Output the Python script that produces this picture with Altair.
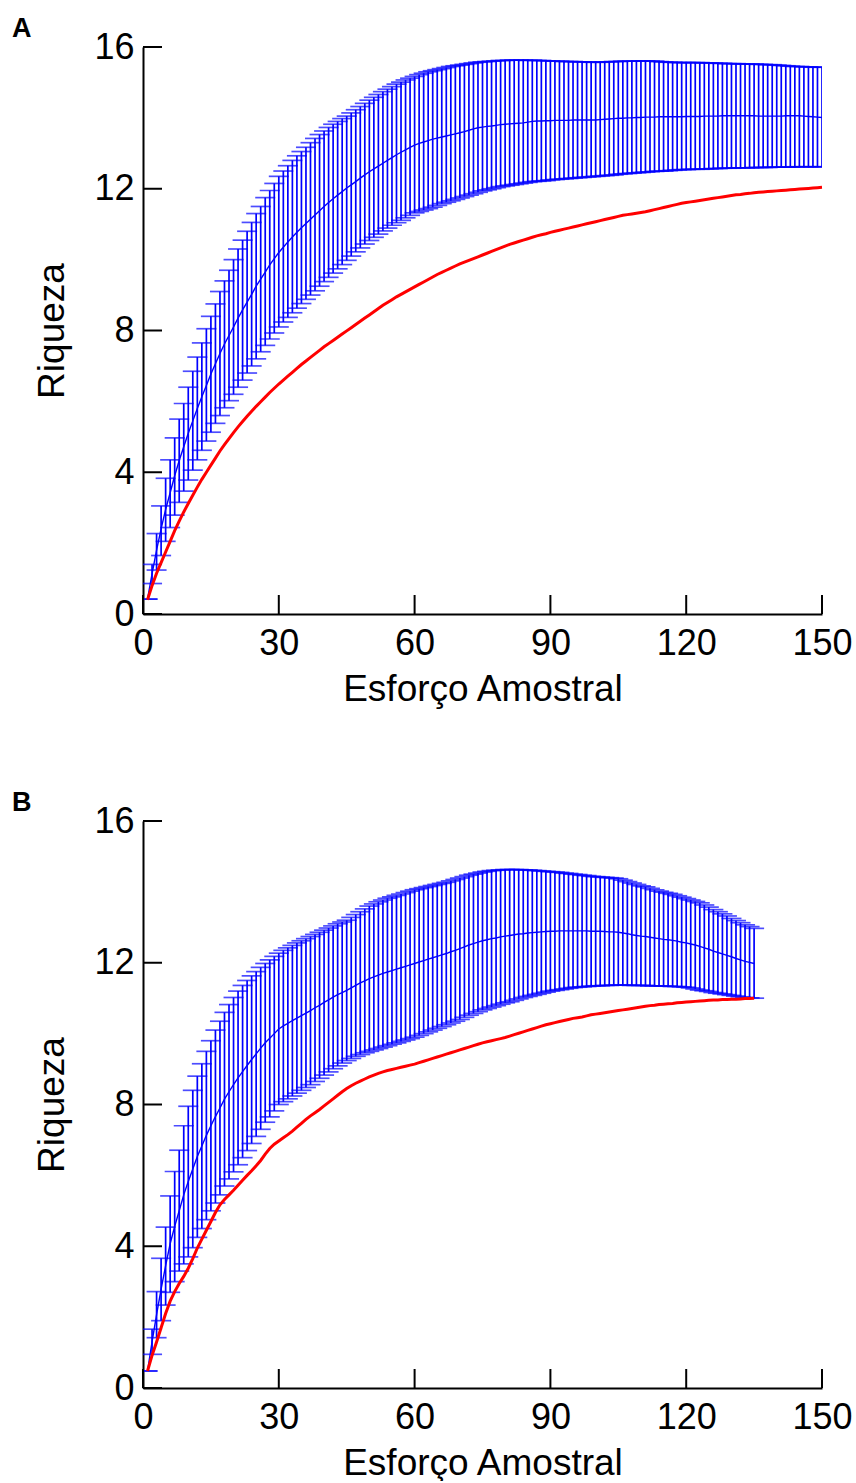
import altair as alt
import pandas as pd

# ---------------- Panel A (x = 1..150) ----------------
A_upper = [
    0.42, 1.40, 2.27, 3.05, 3.83, 4.35, 4.97, 5.50, 5.94, 6.40,
    6.85, 7.25, 7.65, 8.05, 8.40, 8.75, 9.10, 9.40, 9.70, 10.00,
    10.30, 10.55, 10.80, 11.05, 11.30, 11.50, 11.75, 11.95, 12.15, 12.35,
    12.50, 12.65, 12.80, 12.93, 13.05, 13.17, 13.30, 13.42, 13.53, 13.63,
    13.73, 13.82, 13.90, 13.98, 14.05, 14.14, 14.23, 14.32, 14.41, 14.50,
    14.58, 14.66, 14.74, 14.81, 14.88, 14.95, 15.01, 15.07, 15.12, 15.17,
    15.22, 15.26, 15.30, 15.33, 15.36, 15.39, 15.42, 15.45, 15.47, 15.49,
    15.51, 15.53, 15.55, 15.57, 15.58, 15.59, 15.60, 15.61, 15.62, 15.62,
    15.63, 15.63, 15.63, 15.63, 15.62, 15.63, 15.62, 15.62, 15.61, 15.61,
    15.60, 15.60, 15.59, 15.59, 15.59, 15.58, 15.58, 15.58, 15.57, 15.57,
    15.57, 15.58, 15.58, 15.59, 15.59, 15.60, 15.60, 15.60, 15.60, 15.61,
    15.61, 15.60, 15.60, 15.59, 15.58, 15.57, 15.57, 15.56, 15.56, 15.56,
    15.56, 15.56, 15.56, 15.55, 15.55, 15.55, 15.54, 15.54, 15.53, 15.53,
    15.53, 15.52, 15.52, 15.52, 15.52, 15.51, 15.51, 15.50, 15.50, 15.49,
    15.48, 15.47, 15.46, 15.45, 15.45, 15.44, 15.44, 15.43, 15.43, 15.43,
]
A_mean = [
    0.42, 1.13, 1.80, 2.40, 2.95, 3.42, 3.90, 4.33, 4.72, 5.10,
    5.45, 5.80, 6.13, 6.45, 6.77, 7.06, 7.35, 7.62, 7.86, 8.10,
    8.35, 8.58, 8.80, 9.02, 9.25, 9.45, 9.65, 9.85, 10.03, 10.20,
    10.35, 10.50, 10.64, 10.77, 10.90, 11.02, 11.14, 11.26, 11.38, 11.50,
    11.61, 11.72, 11.82, 11.92, 12.02, 12.11, 12.20, 12.30, 12.39, 12.48,
    12.56, 12.64, 12.72, 12.80, 12.88, 12.96, 13.03, 13.10, 13.17, 13.23,
    13.28, 13.32, 13.36, 13.40, 13.43, 13.46, 13.49, 13.52, 13.55, 13.58,
    13.61, 13.65, 13.69, 13.72, 13.74, 13.76, 13.77, 13.79, 13.81, 13.82,
    13.83, 13.84, 13.85, 13.86, 13.88, 13.90, 13.91, 13.91, 13.92, 13.92,
    13.93, 13.93, 13.93, 13.93, 13.94, 13.94, 13.94, 13.94, 13.94, 13.94,
    13.95, 13.96, 13.97, 13.98, 13.99, 13.99, 14.00, 14.00, 14.01, 14.01,
    14.02, 14.02, 14.02, 14.03, 14.03, 14.03, 14.03, 14.03, 14.03, 14.04,
    14.04, 14.04, 14.04, 14.05, 14.05, 14.05, 14.05, 14.06, 14.06, 14.06,
    14.06, 14.06, 14.06, 14.06, 14.06, 14.05, 14.05, 14.05, 14.05, 14.05,
    14.05, 14.06, 14.06, 14.06, 14.06, 14.05, 14.04, 14.03, 14.02, 14.01,
]
A_lower = [
    0.42, 0.86, 1.24, 1.65, 2.05, 2.44, 2.79, 3.15, 3.47, 3.78,
    4.06, 4.35, 4.62, 4.88, 5.13, 5.38, 5.60, 5.82, 6.02, 6.20,
    6.40, 6.60, 6.80, 7.00, 7.20, 7.40, 7.58, 7.76, 7.93, 8.10,
    8.24, 8.37, 8.50, 8.63, 8.76, 8.88, 9.00, 9.12, 9.25, 9.38,
    9.50, 9.62, 9.74, 9.86, 9.98, 10.10, 10.22, 10.33, 10.44, 10.54,
    10.63, 10.72, 10.81, 10.89, 10.97, 11.04, 11.11, 11.18, 11.25, 11.32,
    11.36, 11.40, 11.44, 11.48, 11.53, 11.58, 11.62, 11.66, 11.70, 11.74,
    11.78, 11.82, 11.86, 11.90, 11.94, 11.97, 12.00, 12.03, 12.06, 12.08,
    12.10, 12.12, 12.14, 12.16, 12.18, 12.20, 12.21, 12.22, 12.23, 12.25,
    12.26, 12.27, 12.28, 12.29, 12.30, 12.31, 12.32, 12.33, 12.34, 12.35,
    12.36, 12.37, 12.38, 12.39, 12.41, 12.42, 12.43, 12.44, 12.45, 12.46,
    12.47, 12.48, 12.49, 12.50, 12.50, 12.51, 12.52, 12.53, 12.54, 12.54,
    12.55, 12.55, 12.55, 12.56, 12.56, 12.57, 12.57, 12.58, 12.58, 12.58,
    12.59, 12.59, 12.59, 12.59, 12.60, 12.60, 12.60, 12.60, 12.61, 12.61,
    12.61, 12.61, 12.61, 12.62, 12.62, 12.62, 12.62, 12.62, 12.62, 12.62,
]
A_red = [
    0.40, 0.80, 1.15, 1.45, 1.75, 2.05, 2.35, 2.62, 2.88, 3.12,
    3.35, 3.58, 3.80, 4.00, 4.20, 4.40, 4.60, 4.78, 4.95, 5.12,
    5.28, 5.43, 5.58, 5.72, 5.86, 5.99, 6.12, 6.25, 6.37, 6.49,
    6.60, 6.71, 6.82, 6.93, 7.04, 7.14, 7.24, 7.34, 7.44, 7.54,
    7.63, 7.72, 7.81, 7.90, 7.99, 8.08, 8.17, 8.26, 8.35, 8.44,
    8.53, 8.62, 8.71, 8.79, 8.87, 8.95, 9.02, 9.09, 9.16, 9.23,
    9.30, 9.37, 9.44, 9.51, 9.58, 9.64, 9.70, 9.76, 9.82, 9.88,
    9.93, 9.98, 10.03, 10.08, 10.13, 10.18, 10.23, 10.28, 10.33, 10.38,
    10.43, 10.47, 10.51, 10.55, 10.59, 10.63, 10.67, 10.70, 10.73, 10.77,
    10.80, 10.83, 10.86, 10.89, 10.92, 10.95, 10.98, 11.01, 11.04, 11.07,
    11.10, 11.13, 11.16, 11.19, 11.22, 11.25, 11.27, 11.29, 11.31, 11.33,
    11.35, 11.38, 11.41, 11.44, 11.47, 11.50, 11.53, 11.56, 11.59, 11.61,
    11.63, 11.65, 11.67, 11.69, 11.71, 11.73, 11.75, 11.77, 11.79, 11.81,
    11.83, 11.84, 11.86, 11.87, 11.89, 11.90, 11.91, 11.92, 11.93, 11.94,
    11.95, 11.96, 11.97, 11.98, 11.99, 12.00, 12.01, 12.02, 12.03, 12.04,
]

# ---------------- Panel B (x = 1..135) ----------------
B_upper = [
    0.48, 1.66, 2.72, 3.66, 4.54, 5.42, 6.11, 6.71, 7.40, 7.95,
    8.40, 8.80, 9.15, 9.50, 9.80, 10.10, 10.35, 10.60, 10.82, 11.02,
    11.20, 11.36, 11.50, 11.63, 11.75, 11.87, 11.98, 12.08, 12.18, 12.27,
    12.35, 12.42, 12.49, 12.56, 12.62, 12.68, 12.74, 12.80, 12.86, 12.92,
    12.98, 13.04, 13.10, 13.15, 13.20, 13.28, 13.36, 13.44, 13.52, 13.60,
    13.66, 13.72, 13.77, 13.82, 13.86, 13.90, 13.94, 13.98, 14.02, 14.06,
    14.09, 14.12, 14.15, 14.18, 14.21, 14.24, 14.27, 14.31, 14.35, 14.39,
    14.43, 14.47, 14.50, 14.53, 14.56, 14.58, 14.60, 14.61, 14.62, 14.63,
    14.63, 14.63, 14.63, 14.62, 14.62, 14.61, 14.60, 14.59, 14.58, 14.57,
    14.56, 14.55, 14.53, 14.52, 14.50, 14.49, 14.47, 14.46, 14.44, 14.43,
    14.42, 14.41, 14.40, 14.39, 14.37, 14.33, 14.29, 14.25, 14.21, 14.17,
    14.14, 14.10, 14.06, 14.02, 13.99, 13.96, 13.93, 13.89, 13.85, 13.81,
    13.77, 13.73, 13.69, 13.63, 13.57, 13.50, 13.44, 13.38, 13.32, 13.25,
    13.19, 13.13, 13.07, 13.02, 12.97,
]
B_mean = [
    0.48, 1.30, 2.07, 2.79, 3.45, 4.07, 4.56, 5.00, 5.45, 5.83,
    6.18, 6.53, 6.83, 7.13, 7.40, 7.66, 7.90, 8.15, 8.36, 8.56,
    8.75, 8.93, 9.10, 9.27, 9.43, 9.59, 9.74, 9.87, 10.00, 10.13,
    10.22, 10.29, 10.37, 10.44, 10.51, 10.58, 10.65, 10.73, 10.80, 10.88,
    10.95, 11.03, 11.10, 11.16, 11.22, 11.29, 11.36, 11.43, 11.49, 11.55,
    11.60, 11.65, 11.70, 11.74, 11.78, 11.82, 11.86, 11.90, 11.94, 11.98,
    12.02, 12.06, 12.10, 12.14, 12.18, 12.22, 12.26, 12.31, 12.35, 12.40,
    12.45, 12.50, 12.54, 12.58, 12.62, 12.65, 12.68, 12.70, 12.73, 12.75,
    12.77, 12.79, 12.81, 12.82, 12.84, 12.85, 12.86, 12.87, 12.88, 12.89,
    12.89, 12.90, 12.90, 12.90, 12.90, 12.90, 12.90, 12.90, 12.89, 12.89,
    12.89, 12.88, 12.87, 12.87, 12.86, 12.84, 12.82, 12.79, 12.77, 12.75,
    12.74, 12.72, 12.70, 12.68, 12.66, 12.65, 12.63, 12.61, 12.58, 12.56,
    12.53, 12.50, 12.46, 12.42, 12.38, 12.33, 12.29, 12.25, 12.21, 12.17,
    12.12, 12.08, 12.04, 12.01, 11.98,
]
B_lower = [
    0.48, 0.95, 1.42, 1.90, 2.34, 2.70, 3.00, 3.30, 3.50, 3.70,
    3.96, 4.25, 4.50, 4.75, 5.00, 5.22, 5.45, 5.70, 5.90, 6.10,
    6.30, 6.50, 6.70, 6.90, 7.10, 7.30, 7.50, 7.65, 7.82, 8.00,
    8.08, 8.16, 8.24, 8.32, 8.40, 8.48, 8.56, 8.65, 8.74, 8.83,
    8.92, 9.01, 9.09, 9.17, 9.24, 9.30, 9.36, 9.41, 9.46, 9.50,
    9.54, 9.58, 9.62, 9.66, 9.70, 9.74, 9.78, 9.82, 9.86, 9.90,
    9.95, 10.00, 10.05, 10.10, 10.15, 10.20, 10.25, 10.30, 10.35, 10.40,
    10.46, 10.52, 10.57, 10.62, 10.67, 10.71, 10.75, 10.79, 10.83, 10.87,
    10.90, 10.94, 10.98, 11.02, 11.05, 11.08, 11.11, 11.14, 11.17, 11.20,
    11.22, 11.24, 11.26, 11.28, 11.30, 11.31, 11.32, 11.33, 11.34, 11.35,
    11.35, 11.36, 11.36, 11.37, 11.37, 11.37, 11.37, 11.36, 11.36, 11.36,
    11.36, 11.35, 11.35, 11.35, 11.34, 11.34, 11.33, 11.33, 11.32, 11.31,
    11.29, 11.26, 11.23, 11.21, 11.19, 11.16, 11.14, 11.12, 11.10, 11.08,
    11.06, 11.04, 11.02, 11.01, 11.00,
]
B_red = [
    0.48, 0.92, 1.30, 1.70, 2.10, 2.45, 2.72, 2.95, 3.15, 3.38,
    3.65, 3.95, 4.20, 4.45, 4.70, 4.95, 5.17, 5.32, 5.45, 5.58,
    5.72, 5.86, 6.00, 6.13, 6.27, 6.42, 6.60, 6.76, 6.88, 6.97,
    7.06, 7.15, 7.25, 7.36, 7.47, 7.58, 7.68, 7.77, 7.86, 7.96,
    8.06, 8.16, 8.26, 8.36, 8.45, 8.53, 8.60, 8.66, 8.72, 8.78,
    8.83, 8.88, 8.92, 8.96, 8.99, 9.02, 9.05, 9.08, 9.11, 9.14,
    9.18, 9.22, 9.26, 9.30, 9.34, 9.38, 9.42, 9.46, 9.50, 9.54,
    9.58, 9.62, 9.66, 9.70, 9.74, 9.77, 9.80, 9.83, 9.86, 9.89,
    9.93, 9.97, 10.01, 10.05, 10.09, 10.13, 10.17, 10.21, 10.25, 10.28,
    10.31, 10.34, 10.37, 10.40, 10.43, 10.45, 10.47, 10.50, 10.53, 10.55,
    10.57, 10.59, 10.61, 10.63, 10.65, 10.67, 10.69, 10.71, 10.73, 10.75,
    10.77, 10.79, 10.80, 10.82, 10.83, 10.84, 10.85, 10.87, 10.88, 10.89,
    10.90, 10.91, 10.92, 10.93, 10.94, 10.95, 10.95, 10.96, 10.96, 10.97,
    10.97, 10.98, 10.99, 10.99, 11.00,
]

X_TICKS = [0, 30, 60, 90, 120, 150]
Y_TICKS = [0, 4, 8, 12, 16]
X_TITLE = "Esforço Amostral"
Y_TITLE = "Riqueza"

W, H = 679, 567
BLUE = "#0000ff"
RED = "#ff0000"
FONT = "Liberation Sans"


def panel(label, upper, mean, lower, red):
    n = len(mean)
    df = pd.DataFrame({
        "x": list(range(1, n + 1)),
        "upper": upper, "mean": mean, "lower": lower, "red": red,
    })
    xs = alt.Scale(domain=[0, 150], nice=False)
    ys = alt.Scale(domain=[0, 16], nice=False)
    xax = alt.Axis(values=X_TICKS, ticks=False, grid=False, title=X_TITLE,
                   labelPadding=12, titlePadding=10, labelFlush=False)
    yax = alt.Axis(values=Y_TICKS, ticks=False, grid=False, title=Y_TITLE,
                   labelPadding=9, titlePadding=22, labelFlush=False)

    base = alt.Chart(df)
    bars = base.mark_rule(color=BLUE, strokeWidth=1.7, clip=True).encode(
        x=alt.X("x:Q", scale=xs, axis=xax),
        y=alt.Y("lower:Q", scale=ys, axis=yax),
        y2="upper:Q",
    )
    cap_hi = base.mark_tick(color=BLUE, orient="horizontal", size=20,
                            thickness=1.7, clip=True).encode(
        x="x:Q", y="upper:Q")
    cap_lo = base.mark_tick(color=BLUE, orient="horizontal", size=20,
                            thickness=1.7, clip=True).encode(
        x="x:Q", y="lower:Q")
    mline = base.mark_line(color=BLUE, strokeWidth=1.4).encode(
        x="x:Q", y="mean:Q")
    rline = base.mark_line(color=RED, strokeWidth=3).encode(
        x="x:Q", y="red:Q")

    xt = alt.Chart(pd.DataFrame({"t": X_TICKS})).mark_rule(
        color="black", strokeWidth=2).encode(
        x="t:Q", y=alt.value(H), y2=alt.value(H - 19))
    yt = alt.Chart(pd.DataFrame({"t": Y_TICKS})).mark_rule(
        color="black", strokeWidth=2).encode(
        y="t:Q", x=alt.value(0), x2=alt.value(19))
    lab = alt.Chart(pd.DataFrame({"label": [label]})).mark_text(
        align="left", baseline="alphabetic", fontSize=27,
        fontWeight="bold", font=FONT, color="black").encode(
        text="label:N", x=alt.value(-131), y=alt.value(-10))

    return alt.layer(bars, cap_hi, cap_lo, mline, rline, xt, yt, lab).properties(
        width=W, height=H)


chart = alt.vconcat(
    panel("A", A_upper, A_mean, A_lower, A_red),
    panel("B", B_upper, B_mean, B_lower, B_red),
    spacing=82,
).properties(
    padding={"left": 12, "top": 15, "right": 0, "bottom": 0},
).configure_view(
    stroke=None,
).configure_axis(
    labelFont=FONT, titleFont=FONT, labelFontSize=36, titleFontSize=37,
    titleFontWeight="normal", labelColor="black", titleColor="black",
    domainColor="black", domainWidth=2,
)

chart.save("out.html", embed_options={"renderer": "svg", "actions": False})
